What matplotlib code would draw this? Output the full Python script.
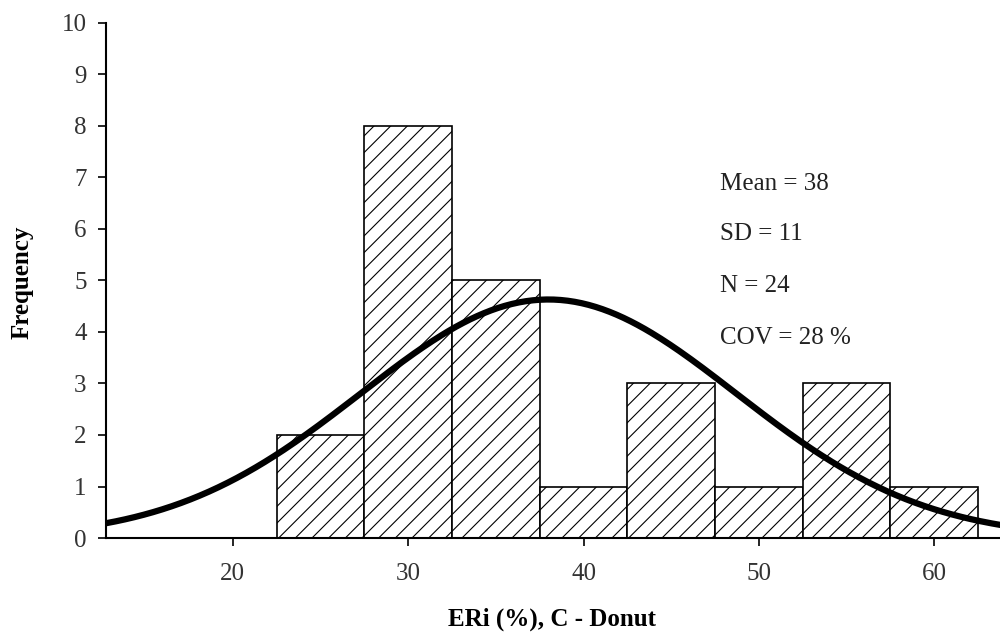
import numpy as np
import matplotlib
matplotlib.use("Agg")
import matplotlib.pyplot as plt

# Histogram data
bin_edges = [22.5, 27.5, 32.5, 37.5, 42.5, 47.5, 52.5, 57.5, 62.5]
counts = [2, 8, 5, 1, 3, 1, 3, 1]

# Fitted normal curve parameters (as drawn)
curve_mean = 38.0
curve_sd = 10.7
curve_peak = 4.63

stats_text = ["Mean = 38", "SD = 11", "N = 24", "COV = 28 %"]
stats_y = [6.88, 5.90, 4.90, 3.88]
stats_x = 47.8

x_ticks = [20, 30, 40, 50, 60]
y_ticks = list(range(0, 11))

plt.rcParams['font.family'] = ['Liberation Serif', 'DejaVu Serif']
plt.rcParams['hatch.linewidth'] = 0.8

fig = plt.figure(figsize=(10, 6.33), dpi=100)
ax = fig.add_axes([0.106, 0.150, 0.894, 0.814])

lefts = bin_edges[:-1]
widths = np.diff(bin_edges)
ax.bar(lefts, counts, width=widths, align='edge', facecolor='white',
       edgecolor='black', linewidth=1.2, hatch='//', zorder=2)

xs = np.linspace(12.0, 65.0, 400)
ys = curve_peak * np.exp(-0.5 * ((xs - curve_mean) / curve_sd) ** 2)
ax.plot(xs, ys, color='black', linewidth=4.5, zorder=3, solid_capstyle='round')

for t, y in zip(stats_text, stats_y):
    ax.text(stats_x, y, t, fontsize=18, va='center', ha='left', color='#222222')

ax.set_xlim(12.77, 63.75)
ax.set_ylim(0, 10)
ax.set_xticks(x_ticks)
ax.set_yticks(y_ticks)
ax.tick_params(axis='both', labelsize=18, direction='out', length=6, width=1.2,
               colors='black', labelcolor='#333333')
ax.tick_params(axis='x', pad=12)
ax.tick_params(axis='y', pad=8)
for s in ['top', 'right']:
    ax.spines[s].set_visible(False)
for s in ['left', 'bottom']:
    ax.spines[s].set_linewidth(1.5)

fig.text(0.552, 1 - 619 / 633, "ERi (%), C - Donut", fontsize=18, fontweight='bold',
         ha='center', va='center')
fig.text(0.022, 1 - 282 / 633, "Frequency", fontsize=18, fontweight='bold',
         ha='center', va='center', rotation=90)

fig.savefig("out.png", dpi=100)
